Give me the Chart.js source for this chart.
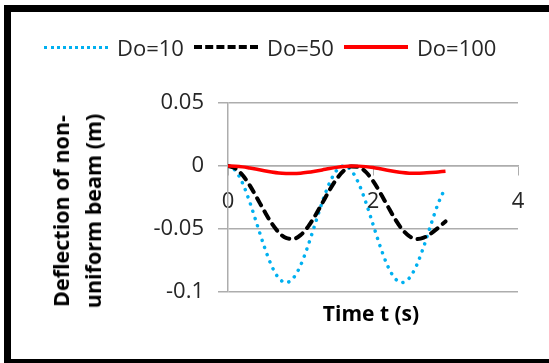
<!DOCTYPE html>
<html>
<head>
<meta charset="utf-8">
<script src="https://cdn.jsdelivr.net/npm/chart.js@4"></script>
<style>
  html, body { margin: 0; padding: 0; background: #fff; }
  body { width: 549px; height: 363px; position: relative; overflow: hidden; font-family: 'Open Sans', sans-serif; }
  #frame { position: absolute; left: 4px; top: 5px; width: 580px; height: 361px; border: 7px solid #000; box-sizing: border-box; pointer-events: none; }
  #chart { position: absolute; left: 0; top: 0; }
  .legend { position: absolute; left: 44px; top: 32px; display: flex; align-items: center; font-size: 22px; color: #262626; white-space: nowrap; }
  .legend__item { display: flex; align-items: center; margin-right: 10px; }
  .legend__line { width: 64px; height: 0; margin-right: 9px; }
  .title-x { position: absolute; left: 371px; top: 313px; transform: translate(-50%, -50%); font-size: 21px; font-weight: bold; color: #000; white-space: nowrap; }
  .title-y { position: absolute; left: 77px; top: 211px; transform: translate(-50%, -50%) rotate(-90deg); font-size: 21.5px; font-weight: bold; line-height: 32px; text-align: center; color: #000; white-space: nowrap; }
</style>
</head>
<body>
<canvas id="chart" width="549" height="363"></canvas>
<div class="legend" id="legend"></div>
<div class="title-y">Deflection of non-<br>uniform beam (m)</div>
<div class="title-x">Time t (s)</div>
<div id="frame"></div>
<script>
// ---- data ----
const timeValues = [0, 0.1, 0.2, 0.3, 0.4, 0.5, 0.6, 0.7, 0.8, 0.9, 1.0, 1.1, 1.2, 1.3, 1.4, 1.5,
  1.6, 1.7, 1.8, 1.9, 2.0, 2.1, 2.2, 2.3, 2.4, 2.5, 2.6, 2.7, 2.8, 2.9, 3.0];

const do10 = [0, -0.0035, -0.0135, -0.0286, -0.0463, -0.0639, -0.079, -0.089, -0.0925, -0.089,
  -0.079, -0.0639, -0.0463, -0.0286, -0.0135, -0.0035, 0, -0.0035, -0.0135, -0.0286, -0.0463,
  -0.0639, -0.079, -0.089, -0.0925, -0.089, -0.079, -0.0639, -0.0463, -0.0296, -0.017];

const do50 = [0, -0.0019, -0.0072, -0.0154, -0.0254, -0.0357, -0.0453, -0.0527, -0.0571, -0.0578,
  -0.0549, -0.0485, -0.0397, -0.0295, -0.0192, -0.0102, -0.0036, -0.0003, -0.0007, -0.0047, -0.0119,
  -0.0213, -0.0316, -0.0417, -0.0501, -0.0557, -0.058, -0.0568, -0.0535, -0.049, -0.044];

const do100 = [0, -0.0002, -0.0007, -0.0016, -0.0026, -0.0037, -0.0047, -0.0055, -0.0059, -0.006,
  -0.0057, -0.005, -0.0041, -0.0031, -0.002, -0.0011, -0.0004, 0, -0.0001, -0.0005, -0.0012,
  -0.0022, -0.0033, -0.0043, -0.0052, -0.0057, -0.0058, -0.0056, -0.0052, -0.0047, -0.0042];

const seriesNames = ['Do=10', 'Do=50', 'Do=100'];
const xTicks = [0, 2, 4];
const yTicks = [0.05, 0, -0.05, -0.1];

const toPoints = ys => ys.map((y, i) => ({ x: timeValues[i], y }));

// ---- legend (html, same order as Excel) ----
const legendStyles = [
  'border-top: 3.5px dotted #00B0F0;',
  'border-top: 4px dashed #000;',
  'border-top: 4px solid #FF0000;'
];
const legendEl = document.getElementById('legend');
seriesNames.forEach((name, i) => {
  const item = document.createElement('span');
  item.className = 'legend__item';
  item.innerHTML = `<span class="legend__line" style="${legendStyles[i]}"></span>${name}`;
  legendEl.appendChild(item);
});

const gridGrey = '#ADADAD';
const tickFont = { family: "'Open Sans', sans-serif", size: 22 };

new Chart(document.getElementById('chart'), {
  type: 'line',
  data: {
    datasets: [
      {
        label: seriesNames[0],
        data: toPoints(do10),
        borderColor: '#00B0F0',
        borderWidth: 3.5,
        borderDash: [0.1, 7.5],
        borderCapStyle: 'round',
        pointRadius: 0,
        cubicInterpolationMode: 'monotone',
        order: 3
      },
      {
        label: seriesNames[1],
        data: toPoints(do50),
        borderColor: '#000000',
        borderWidth: 4,
        borderDash: [8, 7],
        borderCapStyle: 'round',
        pointRadius: 0,
        cubicInterpolationMode: 'monotone',
        order: 2
      },
      {
        label: seriesNames[2],
        data: toPoints(do100),
        borderColor: '#FF0000',
        borderWidth: 3.5,
        pointRadius: 0,
        cubicInterpolationMode: 'monotone',
        order: 1
      }
    ]
  },
  options: {
    responsive: false,
    animation: false,
    layout: { padding: { left: 0, top: 103, right: 31, bottom: 71 } },
    plugins: { legend: { display: false }, tooltip: { enabled: false } },
    scales: {
      x: {
        type: 'linear',
        position: { y: 0 },
        min: 0,
        max: 4,
        afterBuildTicks: s => { s.ticks = xTicks.map(v => ({ value: v })); },
        grid: { drawOnChartArea: false, drawTicks: true, tickLength: 9, color: gridGrey },
        border: { color: gridGrey, width: 1.5 },
        ticks: { font: tickFont, color: '#262626', padding: 14, maxRotation: 0, callback: v => String(v) }
      },
      y: {
        min: -0.1,
        max: 0.05,
        afterBuildTicks: s => { s.ticks = yTicks.map(v => ({ value: v })); },
        afterFit: s => { s.width = 228; },
        grid: { color: gridGrey, lineWidth: 1.5, tickLength: 10 },
        border: { color: gridGrey, width: 1.5 },
        ticks: { font: tickFont, color: '#262626', padding: 14, callback: v => String(v) }
      }
    }
  }
});
</script>
</body>
</html>
